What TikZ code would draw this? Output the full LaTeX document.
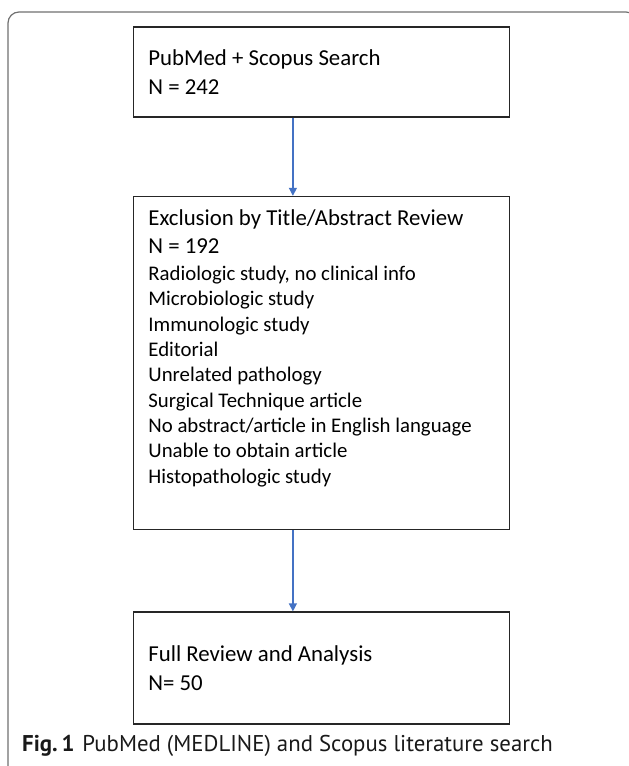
\documentclass[tikz,border=0pt]{standalone}
\usepackage{fontspec}
\setmainfont{Carlito}
\newfontfamily\capfont{PT Sans}
\usetikzlibrary{positioning,arrows.meta}
\definecolor{arrowblue}{HTML}{4472C4}
\definecolor{framegray}{HTML}{707070}
\newcommand{\headfont}{\fontsize{22.8}{28.5}\selectfont}
\newcommand{\listfont}{\fontsize{20.8}{25.3}\selectfont}
\tikzstyle{process} = [rectangle,draw=black!85,line width=1.6pt,inner xsep=15pt,inner ysep=0pt,text width=346pt,align=left,font=\headfont,
 	execute at begin node={\spaceskip=0pt\xspaceskip=0pt}]
\tikzstyle{arrow} = [color=arrowblue,line width=1.2pt,-{Triangle[length=8pt,width=8pt]}]

\begin{document}
\begin{tikzpicture}[x=1pt,y=1pt,node distance=80pt]
 	\useasboundingbox (0,0) rectangle (629,-766);

 	%frame
 	\begin{scope}
 		\clip (0,0) rectangle (629,-766);
 		\draw [framegray,line width=1.2pt,rounded corners=11pt] (8,-12) rectangle (637,-778);
 	\end{scope}

 	%boxes
 	\node (search) [process,minimum height=90pt] at (321.4,-72) {PubMed + Scopus Search\\N = 242};
 	\node (exclusion) [process,below=78pt of search] {\parbox[c][333pt][t]{346pt}{\vspace{13pt}%
 		\headfont Exclusion by Title/Abstract Review\\N = 192\par
 		\vspace{1.4pt}%
 		\listfont Radiologic study, no clinical info\\
 		Microbiologic study\\
 		Immunologic study\\
 		Editorial\\
 		Unrelated pathology\\
 		Surgical Technique article\\
 		No abstract/article in English language\\
 		Unable to obtain article\\
 		Histopathologic study\par}};
 	\node (review) [process,below=81pt of exclusion,minimum height=112pt] {Full Review and Analysis\\N= 50};

 	\draw [arrow] ([xshift=-28.5pt]search.south) -- ([xshift=-28.5pt]exclusion.north);
 	\draw [arrow] ([xshift=-28.5pt]exclusion.south) -- ([xshift=-28.5pt]review.north);

 	%caption
 	\node (caption) [anchor=base west,inner sep=0pt] at (22,-751) {\capfont\fontsize{22.8}{26}\selectfont\color{black!90}\textbf{Fig.\,1}\hspace{8pt}PubMed (MEDLINE) and Scopus literature search};
\end{tikzpicture}
\end{document}
